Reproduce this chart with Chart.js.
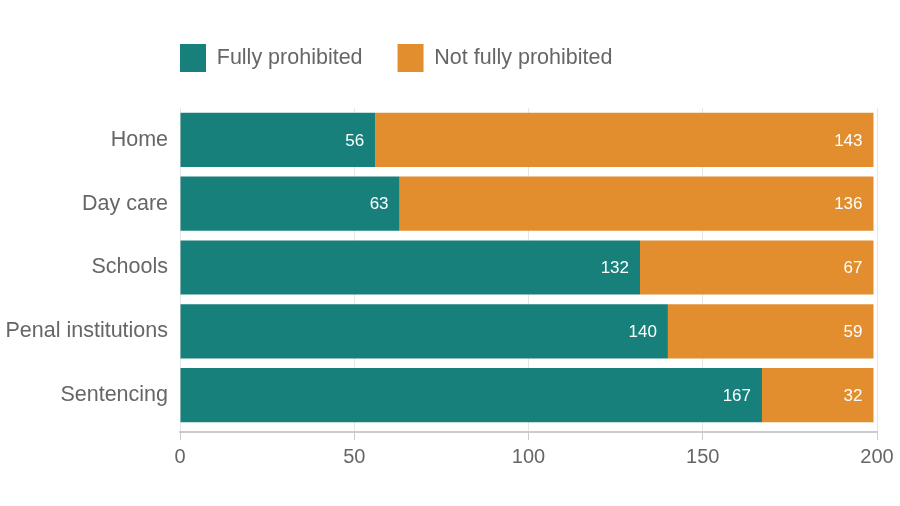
<!DOCTYPE html>
<html>
<head>
<meta charset="utf-8">
<script src="https://cdn.jsdelivr.net/npm/chart.js@4.4.0/dist/chart.umd.min.js"></script>
<style>
  html, body { margin: 0; padding: 0; background: #fff; }
  #wrap { width: 900px; height: 506px; }
</style>
</head>
<body>
<div id="wrap"><canvas id="c"></canvas></div>
<script>
const categories = ['Home', 'Day care', 'Schools', 'Penal institutions', 'Sentencing'];
const fullyProhibited = [56, 63, 132, 140, 167];
const notFullyProhibited = [143, 136, 67, 59, 32];
const xTicks = [0, 50, 100, 150, 200];

const teal = '#17807b';
const orange = '#e38e2e';
const textGray = '#666666';
const fontFamily = "'Liberation Sans', Arial, sans-serif";

//draws the value at the end of each bar segment
const barValues = {
  id: 'barValues',
  afterDatasetsDraw(chart) {
    const ctx = chart.ctx;
    ctx.save();
    ctx.font = '17px ' + fontFamily;
    ctx.fillStyle = '#ffffff';
    ctx.textAlign = 'right';
    ctx.textBaseline = 'middle';
    chart.data.datasets.forEach((ds, i) => {
      const meta = chart.getDatasetMeta(i);
      if (meta.hidden) return;
      meta.data.forEach((bar, j) => {
        ctx.fillText(ds.data[j].toString(), bar.x - 11, bar.y + 1);
      });
    });
    ctx.restore();
  }
};

//line the legend up with the left edge of the plot and leave more room under it
const legendShift = {
  id: 'legendShift',
  beforeInit(chart) {
    const lg = chart.legend;
    if (!lg) return;
    const fit = lg.fit;
    lg.fit = function() {
      fit.call(this);
      this.height += 26;
    };
  },
  afterLayout(chart) {
    const lg = chart.legend;
    if (lg) {
      const pad = lg.options.labels.padding;
      const w = lg.right - lg.left;
      lg.left = chart.chartArea.left - pad;
      lg.right = lg.left + w;
    }
    //small gap between the last bar and the x axis line
    const y = chart.scales.y;
    y.bottom -= 5;
    y.height -= 5;
    y.configure();
  }
};

new Chart(document.getElementById('c'), {
  type: 'bar',
  data: {
    labels: categories,
    datasets: [
      {
        label: 'Fully prohibited',
        data: fullyProhibited,
        backgroundColor: teal,
        borderWidth: 0
      },
      {
        label: 'Not fully prohibited',
        data: notFullyProhibited,
        backgroundColor: orange,
        borderWidth: 0
      }
    ]
  },
  options: {
    indexAxis: 'y',
    responsive: true,
    maintainAspectRatio: false,
    animation: false,
    layout: {
      padding: { top: 9, right: 23, bottom: 32, left: 0 }
    },
    datasets: {
      bar: {
        categoryPercentage: 0.85,
        barPercentage: 1
      }
    },
    plugins: {
      tooltip: { enabled: false },
      legend: {
        position: 'top',
        align: 'start',
        labels: {
          boxWidth: 26,
          boxHeight: 28,
          padding: 35,
          color: textGray,
          font: { family: fontFamily, size: 21.5 }
        }
      }
    },
    scales: {
      x: {
        stacked: true,
        min: 0,
        max: 200,
        afterBuildTicks(scale) {
          scale.ticks = xTicks.map(v => ({ value: v }));
        },
        grid: {
          color: '#e6e6e6',
          tickLength: 8,
          tickColor: '#cccccc'
        },
        border: { color: '#cccccc', width: 2 },
        ticks: {
          color: textGray,
          padding: 5,
          font: { family: fontFamily, size: 20 }
        }
      },
      y: {
        stacked: true,
        afterFit(scale) {
          scale.width = 180;
        },
        grid: { display: false },
        border: { display: false },
        ticks: {
          color: textGray,
          padding: 4,
          font: { family: fontFamily, size: 21.5 }
        }
      }
    }
  },
  plugins: [barValues, legendShift]
});
</script>
</body>
</html>
